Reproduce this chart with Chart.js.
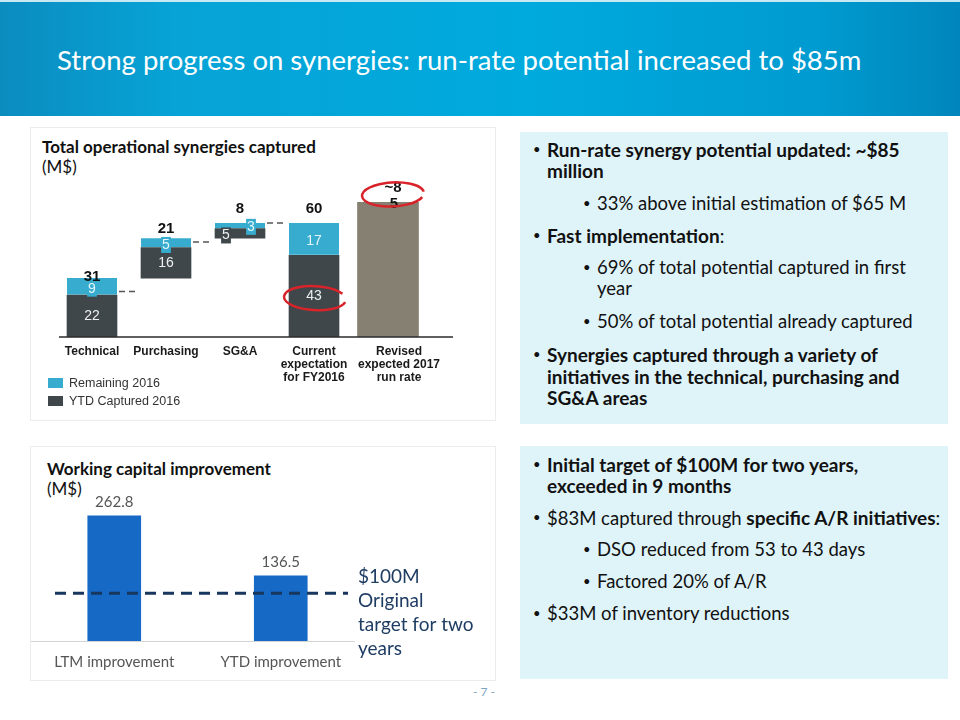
<!DOCTYPE html>
<html>
<head>
<meta charset="utf-8">
<script src="https://cdn.jsdelivr.net/npm/chart.js@4.4.1/dist/chart.umd.min.js"></script>
<style>
    body { margin: 0; width: 960px; height: 720px; position: relative; overflow: hidden; background: #fff; font-family: Lato, "Open Sans", sans-serif; }
    .banner { position: absolute; left: 0; top: 0; width: 960px; height: 116px; box-sizing: border-box; border-top: 2px solid #c6e9f4;
        background: linear-gradient(90deg, #0b8cbf 0%, #07a3d6 18%, #00aadd 55%, #009bd0 85%, #0086bc 100%); }
    .banner h1 { position: absolute; left: 57px; top: 41px; margin: 0; font-weight: 400; font-size: 27.5px; color: #fff; white-space: nowrap; }
    .panel { position: absolute; border: 1px solid #ececec; background: #fff; box-sizing: border-box; }
    .ptitle { position: absolute; font-weight: 700; font-size: 17px; color: #111; line-height: 20px; white-space: nowrap; }
    .ptitle span { font-weight: 400; }
    canvas { position: absolute; }
    .legend { position: absolute; left: 48px; font: 12.5px Arial, "Liberation Sans", sans-serif; color: #333; }
    .legend i { display: inline-block; width: 15px; height: 10px; margin-right: 6px; vertical-align: -1px; }
    .note { position: absolute; left: 520px; width: 428px; background: #dff4f9; }
    .b { position: absolute; left: 547px; font-size: 18.5px; line-height: 21px; color: #111; white-space: nowrap; }
    .b::before { content: "\2022"; position: absolute; left: -14px; font-weight: 400; font-size: 13px; }
    .b.sub { left: 597px; }
    .bold { font-weight: 700; font-size: 19px; }
    .page { position: absolute; left: 473px; top: 684px; font-size: 12px; color: #7fa6bf; }
</style>
</head>
<body>
<div class="banner"><h1>Strong progress on synergies: run-rate potential increased to $85m</h1></div>

<div class="panel" style="left:30px;top:127px;width:466px;height:294px"></div>
<div class="ptitle" style="left:42px;top:137px">Total operational synergies captured<br><span>(M$)</span></div>
<canvas id="synergy-chart" width="465" height="293" style="left:30px;top:127px"></canvas>
<div class="legend" style="top:376px"><i style="background:#37accf"></i>Remaining 2016</div>
<div class="legend" style="top:394px"><i style="background:#3f474b"></i>YTD Captured 2016</div>

<div class="panel" style="left:30px;top:446px;width:466px;height:235px"></div>
<div class="ptitle" style="left:47px;top:459px">Working capital improvement<br><span>(M$)</span></div>
<canvas id="wc-chart" width="465" height="234" style="left:30px;top:446px"></canvas>

<div class="note" style="top:132px;height:292px"></div>
<div class="b bold" style="top:139px">Run-rate synergy potential updated: ~$85<br>million</div>
<div class="b sub" style="top:193px">33% above initial estimation of $65 M</div>
<div class="b" style="top:225px"><span class="bold">Fast implementation</span>:</div>
<div class="b sub" style="top:257px">69% of total potential captured in first<br>year</div>
<div class="b sub" style="top:311px">50% of total potential already captured</div>
<div class="b bold" style="top:344px;line-height:21.5px">Synergies captured through a variety of<br>initiatives in the technical, purchasing and<br>SG&amp;A areas</div>

<div class="note" style="top:446px;height:233px"></div>
<div class="b bold" style="top:454px">Initial target of $100M for two years,<br>exceeded in 9 months</div>
<div class="b" style="top:507px">$83M captured through <span class="bold">specific A/R initiatives</span>:</div>
<div class="b sub" style="top:539px">DSO reduced from 53 to 43 days</div>
<div class="b sub" style="top:571px">Factored 20% of A/R</div>
<div class="b" style="top:603px">$33M of inventory reductions</div>

<div class="page">- 7 -</div>

<script>
// synergies waterfall (M$)
const synergyCategories = [['Technical'], ['Purchasing'], ['SG&A'], ['Current', 'expectation', 'for FY2016'], ['Revised', 'expected 2017', 'run rate']];
const ytdCaptured = [22, 16, 5, 43];
const remaining2016 = [9, 5, 3, 17];
const stepTotals = ['31', '21', '8', '60'];
const revisedRunRate = 85;
const revisedLabel = ['~8', '5'];
const connectorLevels = [24, 50, 60];

// working capital (M$)
const wcCategories = ['LTM improvement', 'YTD improvement'];
const wcValues = [262.8, 136.5];
const wcTarget = 100;
const wcTargetLabel = ['$100M', 'Original', 'target for two', 'years'];

const DARK = '#3f474b';
const CYAN = '#37accf';
const GREY = '#868072';
const ARIAL = 'Arial, "Liberation Sans", sans-serif';

// build floating bars: first three steps stack up, the FY2016 bar starts from zero
const ytdBars = [];
const remBars = [];
let base = 0;
for (let i = 0; i < ytdCaptured.length; i++) {
    if (i === 3) base = 0;
    ytdBars.push([base, base + ytdCaptured[i]]);
    remBars.push([base + ytdCaptured[i], base + ytdCaptured[i] + remaining2016[i]]);
    base += ytdCaptured[i] + remaining2016[i];
}
ytdBars.push(null);
remBars.push(null);

function boxedText(ctx, text, cx, cy, bg, fg, font) {
    ctx.font = font;
    const w = ctx.measureText(text).width;
    if (bg) {
        ctx.fillStyle = bg;
        ctx.fillRect(cx - w / 2 - 1, cy - 8, w + 2, 16);
    }
    ctx.fillStyle = fg;
    ctx.textAlign = 'center';
    ctx.textBaseline = 'middle';
    ctx.fillText(text, cx, cy);
}

const synergyDecor = {
    id: 'synergyDecor',
    afterDatasetsDraw(chart) {
        const { ctx, chartArea, scales: { x, y } } = chart;
        const ytdMeta = chart.getDatasetMeta(0).data;
        const remMeta = chart.getDatasetMeta(1).data;
        const revBar = chart.getDatasetMeta(2).data[4];
        ctx.save();

        // baseline
        const y0 = y.getPixelForValue(0);
        ctx.strokeStyle = '#2b2b2b';
        ctx.lineWidth = 1.5;
        ctx.beginPath();
        ctx.moveTo(chartArea.left + 4, y0);
        ctx.lineTo(chartArea.right + 28, y0);
        ctx.stroke();

        // dashed connectors between steps
        ctx.strokeStyle = '#555';
        ctx.setLineDash([6, 4]);
        connectorLevels.forEach((lvl, i) => {
            const a = ytdMeta[i], b = ytdMeta[i + 1];
            const py = y.getPixelForValue(lvl);
            ctx.beginPath();
            ctx.moveTo(a.x + a.width / 2 + 2, py);
            ctx.lineTo(b.x - b.width / 2 - 2, py);
            ctx.stroke();
        });
        ctx.setLineDash([]);

        // segment values
        const segFont = '14px ' + ARIAL;
        for (let i = 0; i < ytdCaptured.length; i++) {
            const d = ytdMeta[i], r = remMeta[i];
            const small = Math.abs(d.base - d.y) < 14 && Math.abs(r.base - r.y) < 14;
            boxedText(ctx, String(ytdCaptured[i]), d.x - (small ? 14 : 0), (d.y + d.base) / 2 + (small ? 2 : 0), DARK, '#eef0f0', segFont);
            boxedText(ctx, String(remaining2016[i]), r.x + (small ? 11 : 0), (r.y + r.base) / 2 + (small ? 1 : 2), CYAN, '#e4f6fb', segFont);
        }

        // step totals
        const lift = [1, 9, 14, 14];
        const totFont = 'bold 15px ' + ARIAL;
        stepTotals.forEach((t, i) => {
            boxedText(ctx, t, remMeta[i].x, remMeta[i].y - lift[i], null, '#111', totFont);
        });
        boxedText(ctx, revisedLabel[0], revBar.x + 5, revBar.y - 15, null, '#111', totFont);
        boxedText(ctx, revisedLabel[1], revBar.x + 6, revBar.y + 1, null, '#111', totFont);

        // category labels
        ctx.font = 'bold 12px ' + ARIAL;
        ctx.fillStyle = '#1a1a1a';
        ctx.textAlign = 'center';
        ctx.textBaseline = 'middle';
        synergyCategories.forEach((lines, i) => {
            const cx = x.getPixelForValue(i);
            lines.forEach((ln, k) => ctx.fillText(ln, cx + (i === 4 ? 11 : 0), y0 + 15 + k * 13));
        });

        // red highlight ellipses
        ctx.strokeStyle = '#d9232a';
        ctx.lineWidth = 2.5;
        ctx.beginPath();
        ctx.ellipse(revBar.x + 5, revBar.y - 8, 31, 12, -0.05, 0.35, Math.PI * 2 - 0.1);
        ctx.stroke();
        const d43 = ytdMeta[3];
        ctx.beginPath();
        ctx.ellipse(d43.x + 1, (d43.y + d43.base) / 2 + 2, 31, 12, 0.05, 0.2, Math.PI * 2 - 0.5);
        ctx.stroke();
        ctx.restore();
    }
};

new Chart(document.getElementById('synergy-chart'), {
    type: 'bar',
    data: {
        labels: synergyCategories.map(l => l.join(' ')),
        datasets: [
            {
                label: 'YTD Captured 2016',
                data: ytdBars,
                backgroundColor: DARK,
                barThickness: 50,
                grouped: false,
                yAxisID: 'y'
            },
            {
                label: 'Remaining 2016',
                data: remBars,
                backgroundColor: CYAN,
                borderColor: '#d8eef4',
                borderWidth: { top: 0, left: 0, right: 0, bottom: 1 },
                borderSkipped: false,
                barThickness: 50,
                grouped: false,
                yAxisID: 'y'
            },
            {
                label: 'Revised expected 2017 run rate',
                data: [null, null, null, null, revisedRunRate],
                backgroundColor: GREY,
                barThickness: 61,
                grouped: false,
                yAxisID: 'y2'
            }
        ]
    },
    options: {
        responsive: false,
        animation: false,
        layout: { padding: { left: 25, right: 70, top: 58, bottom: 83 } },
        plugins: { legend: { display: false }, tooltip: { enabled: false } },
        scales: {
            x: { display: false },
            y: { display: false, min: 0, max: 80 },
            // the 2017 bar is drawn on its own (not-to-scale) axis, as on the slide
            y2: { display: false, min: 0, max: 96 }
        }
    },
    plugins: [synergyDecor]
});

const wcDecor = {
    id: 'wcDecor',
    afterDatasetsDraw(chart) {
        const { ctx, chartArea, scales: { x, y } } = chart;
        const bars = chart.getDatasetMeta(0).data;
        const y0 = y.getPixelForValue(0);
        ctx.save();
        ctx.strokeStyle = '#d4d4d4';
        ctx.lineWidth = 1;
        ctx.beginPath();
        ctx.moveTo(chartArea.left, y0 + 0.5);
        ctx.lineTo(chartArea.right - 9, y0 + 0.5);
        ctx.stroke();

        // target line
        const yt = y.getPixelForValue(wcTarget);
        ctx.strokeStyle = '#17375e';
        ctx.lineWidth = 3;
        ctx.setLineDash([11, 7]);
        ctx.beginPath();
        ctx.moveTo(chartArea.left + 24, yt);
        ctx.lineTo(chartArea.right - 16, yt);
        ctx.stroke();
        ctx.setLineDash([]);

        ctx.textAlign = 'center';
        ctx.textBaseline = 'middle';
        ctx.font = '15px Lato, "Open Sans", sans-serif';
        ctx.fillStyle = '#555';
        bars.forEach((b, i) => {
            ctx.fillText(wcValues[i].toFixed(1), b.x, b.y - 14);
            ctx.fillText(wcCategories[i], x.getPixelForValue(i), y0 + 21);
        });

        ctx.textAlign = 'left';
        ctx.font = '19px Lato, "Open Sans", sans-serif';
        ctx.fillStyle = '#1f3d63';
        wcTargetLabel.forEach((ln, k) => ctx.fillText(ln, chartArea.right - 6, yt - 16 + k * 23.7));
        ctx.restore();
    }
};

new Chart(document.getElementById('wc-chart'), {
    type: 'bar',
    data: {
        labels: wcCategories,
        datasets: [{
            label: 'Working capital improvement',
            data: wcValues,
            backgroundColor: '#1769c6',
            barThickness: 53
        }]
    },
    options: {
        responsive: false,
        animation: false,
        layout: { padding: { left: 1, right: 131, top: 52, bottom: 39 } },
        plugins: { legend: { display: false }, tooltip: { enabled: false } },
        scales: {
            x: { display: false },
            y: { display: false, min: 0, max: 300 }
        }
    },
    plugins: [wcDecor]
});
</script>
</body>
</html>
